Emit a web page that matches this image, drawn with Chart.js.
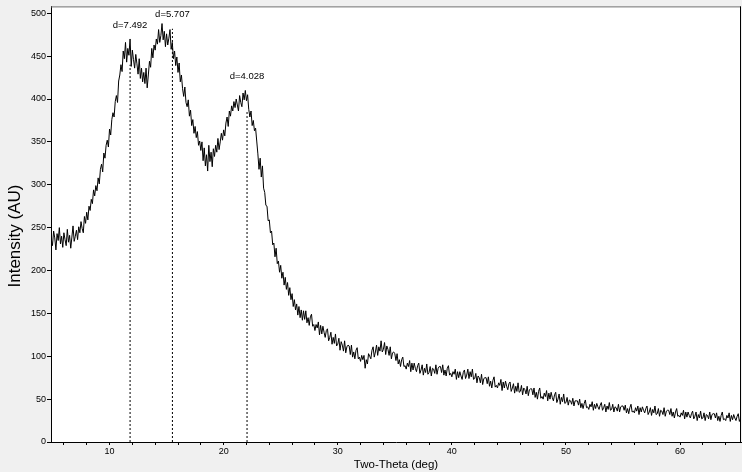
<!DOCTYPE html>
<html>
<head>
<meta charset="utf-8">
<script src="https://cdn.jsdelivr.net/npm/chart.js@4.4.1/dist/chart.umd.min.js"></script>
<style>
html,body{margin:0;padding:0;background:#f0f0f0;}
#wrap{width:742px;height:472px;}
</style>
</head>
<body>
<div id="wrap"><canvas id="c" width="742" height="472"></canvas></div>
<script>
// ---- data ----
const thetaStart = 4.9;   // first two-theta sample (deg)
const thetaStep = 0.1;    // sampling step (deg)
const intensity = [
236,
229,246,238,224,243,235,250,231,240,227,
244,236,229,248,233,241,226,239,252,234,
240,247,236,251,244,257,249,244,263,255,
268,259,275,270,283,278,294,287,299,293,
308,301,318,324,315,337,331,346,352,344,
365,358,376,384,379,397,404,396,421,428,
440,432,456,447,466,443,459,451,470,438,
457,446,436,452,441,429,447,424,436,420,
431,418,436,413,428,444,437,459,448,463,
457,470,464,481,466,474,488,469,479,461,
476,463,471,481,458,466,447,456,439,449,
431,442,420,428,412,403,414,396,391,399,
380,387,369,376,360,368,355,362,346,351,
340,350,328,343,322,335,316,346,327,338,
321,342,333,346,338,354,341,350,360,352,
364,357,372,379,368,386,380,392,386,397,
390,400,393,386,404,396,391,407,399,410,
398,405,388,379,386,369,375,363,366,351,
336,318,331,309,322,296,291,276,275,258,
259,244,246,230,232,216,226,208,211,198,
206,191,198,183,192,178,186,171,180,166,
173,158,166,154,161,148,158,145,154,142,
153,143,153,139,145,136,146,149,135,137,
130,137,133,140,125,136,126,135,128,122,
130,132,118,122,128,114,122,115,126,112,
114,121,107,117,113,106,118,104,111,113,
112,102,113,99,105,97,107,110,97,99,
94,101,96,101,86,96,91,103,100,97,
107,111,99,105,113,101,111,106,118,105,
108,116,102,112,108,101,111,97,104,105,
103,95,103,91,96,88,96,99,88,89,
85,92,88,95,82,92,84,92,86,82,
89,92,80,84,90,78,86,81,91,79,
81,88,77,86,85,80,90,79,86,88,
88,81,90,78,84,77,86,89,78,80,
76,82,79,85,73,82,75,82,77,73,
81,84,74,78,85,74,82,76,85,73,
74,80,69,77,75,69,79,67,74,75,
75,68,76,65,71,63,72,76,64,66,
63,69,66,73,60,70,63,71,65,61,
68,70,59,63,68,57,65,59,69,58,
59,66,55,63,61,56,65,54,61,62,
62,55,63,52,58,50,59,63,51,53,
50,57,53,60,48,57,50,58,52,48,
55,58,46,50,56,44,52,47,56,45,
46,52,43,49,48,44,51,42,48,48,
48,43,50,40,45,39,45,49,40,41,
38,44,41,47,37,44,39,45,41,38,
43,46,37,40,44,35,42,38,46,37,
38,44,35,41,40,36,44,35,41,42,
42,37,43,34,39,33,40,44,35,36,
34,40,36,42,32,40,35,41,37,34,
39,42,32,35,40,31,38,34,42,32,
33,39,30,37,36,32,40,30,36,37,
37,32,39,30,35,28,35,39,30,31,
29,34,31,37,27,35,29,35,31,28,
33,36,27,30,35,25,32,28,36,27,
28,34,25,32,31,27,35,26,32,33,
33,28,34,25,30,24,31,35,26,27,
25,31,28,34,24,31,26,32,28,25,
30,33,24,27
];
const peakTheta = [11.80, 15.51, 22.05];
const peakLabels = ["d=7.492", "d=5.707", "d=4.028"];
const peakLineTop = [440, 482, 387];
const peakLabelIntensity = [486, 499, 426];
const xTickValues = [6,8,10,12,14,16,18,20,22,24,26,28,30,32,34,36,38,40,42,44,46,48,50,52,54,56,58,60,62,64];
const yTickValues = [0,50,100,150,200,250,300,350,400,450,500];
const xTitle = "Two-Theta (deg)";
const yTitle = "Intensity (AU)";

// ---- build ----
const FONT = "'Liberation Sans', Arial, sans-serif";
const mainData = intensity.map((v, i) => ({ x: +(thetaStart + i * thetaStep).toFixed(2), y: v }));
const dashSets = peakTheta.map((t, i) => ({
  data: [{ x: t, y: 0 }, { x: t, y: peakLineTop[i] }],
  borderColor: '#000', borderWidth: 1, borderDash: [2, 2],
  pointRadius: 0, fill: false
}));

const framePlugin = {
  id: 'frame',
  beforeDraw(chart) {
    const { ctx, chartArea: a } = chart;
    ctx.save();
    ctx.fillStyle = '#f0f0f0';
    ctx.fillRect(0, 0, chart.width, chart.height);
    ctx.fillStyle = '#ffffff';
    ctx.fillRect(a.left, a.top, a.right - a.left, a.bottom - a.top);
    ctx.restore();
  },
  afterDraw(chart) {
    const { ctx, chartArea: a, scales } = chart;
    ctx.save();
    ctx.lineWidth = 1;
    ctx.strokeStyle = '#6e6e6e';
    ctx.beginPath();
    ctx.moveTo(a.left, a.top + 0.5);
    ctx.lineTo(a.right, a.top + 0.5);
    ctx.stroke();
    ctx.strokeStyle = '#000';
    ctx.beginPath();
    ctx.moveTo(a.right - 0.5, a.top);
    ctx.lineTo(a.right - 0.5, a.bottom);
    ctx.stroke();
    // peak labels
    ctx.fillStyle = '#000';
    ctx.font = "9.5px " + FONT;
    ctx.textAlign = 'center';
    ctx.textBaseline = 'middle';
    peakTheta.forEach((t, i) => {
      ctx.fillText(peakLabels[i], scales.x.getPixelForValue(t), scales.y.getPixelForValue(peakLabelIntensity[i]));
    });
    // y title
    ctx.translate(15, 236);
    ctx.rotate(-Math.PI / 2);
    ctx.font = "17px " + FONT;
    ctx.fillText(yTitle, 0, 0);
    ctx.restore();
  }
};

new Chart(document.getElementById('c'), {
  type: 'line',
  data: {
    datasets: [{
      data: mainData, borderColor: '#000', borderWidth: 1,
      pointRadius: 0, tension: 0, fill: false
    }].concat(dashSets)
  },
  options: {
    responsive: false, animation: false, devicePixelRatio: 1,
    layout: { padding: { top: 2, right: 1, left: 0, bottom: 0 } },
    plugins: { legend: { display: false }, tooltip: { enabled: false } },
    scales: {
      x: {
        type: 'linear', min: 4.87, max: 65.34,
        afterBuildTicks: s => { s.ticks = xTickValues.map(v => ({ value: v })); },
        afterFit: s => { s.height = 30; },
        ticks: {
          autoSkip: false, maxRotation: 0, padding: 1, color: '#000',
          font: { family: FONT, size: 9 },
          callback: v => (v % 10 === 0 ? String(v) : '')
        },
        grid: { drawOnChartArea: false, drawTicks: true, tickLength: 3, color: '#000' },
        border: { color: '#000', width: 1 },
        title: { display: true, text: xTitle, color: '#000', padding: 0, font: { family: FONT, size: 11.5 } }
      },
      y: {
        type: 'linear', min: 0, max: 508,
        afterBuildTicks: s => { s.ticks = yTickValues.map(v => ({ value: v })); },
        afterFit: s => { s.width = 51; },
        ticks: { padding: 1, color: '#000', font: { family: FONT, size: 9 } },
        grid: { drawOnChartArea: false, drawTicks: true, tickLength: 4, color: '#000' },
        border: { color: '#000', width: 1 }
      }
    }
  },
  plugins: [framePlugin]
});
</script>
</body>
</html>
